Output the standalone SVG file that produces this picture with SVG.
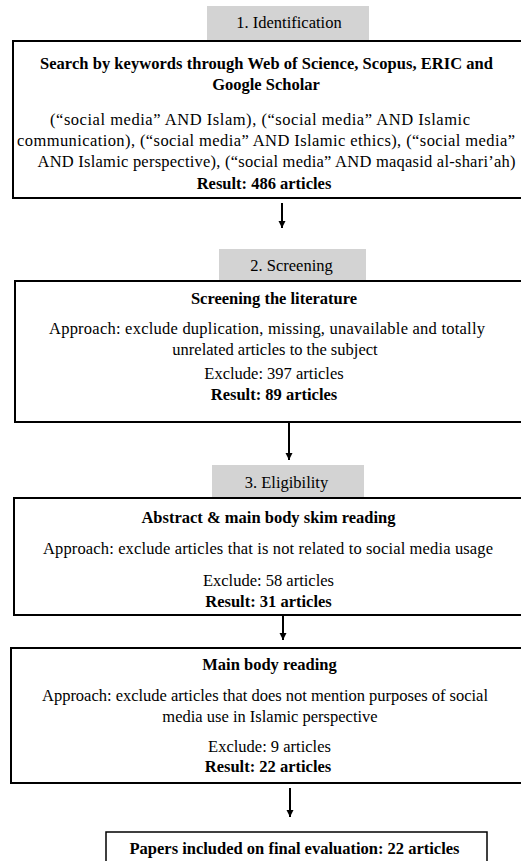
<svg xmlns="http://www.w3.org/2000/svg" width="521" height="861" viewBox="0 0 521 861">
<defs>
<style>
.t{font-family:'Liberation Serif','Times New Roman',serif;font-size:16.5px;fill:#000;text-anchor:middle}
.b{font-weight:bold}
.box{fill:#fff;stroke:#000;stroke-width:2}
.lab{fill:#d3d3d3;stroke:none}
.con{stroke:#000;stroke-width:2;fill:none}
</style>
<marker id="ah" markerUnits="userSpaceOnUse" markerWidth="8" markerHeight="8" refX="7" refY="3.5" orient="auto" viewBox="0 0 8 8">
<path d="M0,0 L7,3.5 L0,7 Z" fill="#000"/>
</marker>
</defs>
<rect width="521" height="861" fill="#fff"/>
<g id="label1"><rect class="lab" x="207" y="6" width="162" height="34"/><text class="t" x="289" y="28">1. Identification</text></g>
<g id="box1"><rect class="box" x="13" y="41" width="516" height="157"/>
<text class="t b" x="266.5" y="68.5" textLength="453">Search by keywords through Web of Science, Scopus, ERIC and</text>
<text class="t b" x="266" y="89.5">Google Scholar</text>
<text class="t" x="260" y="124.5" textLength="420">(“social media” AND Islam), (“social media” AND Islamic</text>
<text class="t" x="266" y="146" textLength="498">communication), (“social media” AND Islamic ethics), (“social media”</text>
<text class="t" x="276.5" y="167" textLength="478">AND Islamic perspective), (“social media” AND maqasid al-shari’ah)</text>
<text class="t b" x="264" y="188.5">Result: 486 articles</text>
</g>
<g id="label2"><rect class="lab" x="219" y="249" width="147" height="32"/><text class="t" x="291.5" y="271">2. Screening</text></g>
<g id="box2"><rect class="box" x="15" y="281" width="516" height="141"/>
<text class="t b" x="274" y="303.5">Screening the literature</text>
<text class="t" x="267" y="333.5" textLength="436">Approach: exclude duplication, missing, unavailable and totally</text>
<text class="t" x="275" y="354.5">unrelated articles to the subject</text>
<text class="t" x="274" y="378.5">Exclude: 397 articles</text>
<text class="t b" x="274" y="399.5">Result: 89 articles</text>
</g>
<g id="label3"><rect class="lab" x="212" y="465" width="152" height="33"/><text class="t" x="286.5" y="488">3. Eligibility</text></g>
<g id="box3"><rect class="box" x="14" y="498" width="516" height="117"/>
<text class="t b" x="268.5" y="522.5">Abstract &amp; main body skim reading</text>
<text class="t" x="268" y="553.5" textLength="450">Approach: exclude articles that is not related to social media usage</text>
<text class="t" x="268.5" y="585.5">Exclude: 58 articles</text>
<text class="t b" x="268.5" y="606.5">Result: 31 articles</text>
</g>
<g id="box4"><rect class="box" x="11" y="648" width="518" height="135"/>
<text class="t b" x="269.5" y="669.5">Main body reading</text>
<text class="t" x="265" y="700.5" textLength="446">Approach: exclude articles that does not mention purposes of social</text>
<text class="t" x="270" y="721.5">media use in Islamic perspective</text>
<text class="t" x="269.5" y="751.5">Exclude: 9 articles</text>
<text class="t b" x="268" y="771.5">Result: 22 articles</text>
</g>
<g id="box5"><rect class="box" x="106" y="832" width="381" height="40" style="stroke-width:1.5"/>
<text class="t b" x="294.5" y="853.5">Papers included on final evaluation: 22 articles</text>
</g>
<g id="connectors">
<line class="con" x1="282" y1="203" x2="282" y2="228" marker-end="url(#ah)"/>
<line class="con" x1="289" y1="422" x2="289" y2="460" marker-end="url(#ah)"/>
<line class="con" x1="283" y1="616" x2="283" y2="640" marker-end="url(#ah)"/>
<line class="con" x1="290" y1="788" x2="290" y2="817" marker-end="url(#ah)"/>
</g>
</svg>
